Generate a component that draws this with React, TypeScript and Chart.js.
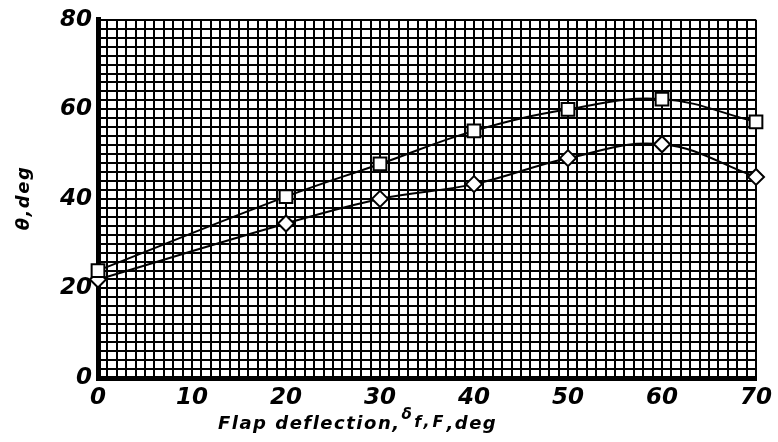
import React, { useEffect, useRef } from "react";
import { Chart, registerables } from "chart.js";

Chart.register(...registerables);

const flapDeflection = [0, 20, 30, 40, 50, 60, 70];
const squareSeries = [24, 40.5, 47.8, 55.2, 60, 62.3, 57.2];
const diamondSeries = [22, 34.5, 40, 43.3, 49.1, 52.2, 44.9];

const xMin = 0;
const xMax = 70;
const yMin = 0;
const yMax = 80;
const xLabelStep = 10;
const yLabelStep = 20;
const xTitleMain = "Flap deflection,";
const xTitleDelta = "δ";
const xTitleSub = "f,F";
const xTitleEnd = ",deg";
const yTitle = "θ,deg";

const FONT = "'DejaVu Sans', 'Liberation Sans', sans-serif";

const titlePlugin = {
  id: "customTitles",
  afterDraw(chart: any) {
    const ctx = chart.ctx;
    ctx.save();
    ctx.fillStyle = "#000";
    ctx.textBaseline = "alphabetic";
    ctx.textAlign = "left";
    // x title
    let x = 218;
    const base = 429;
    ctx.font = `italic bold 18px ${FONT}`;
    (ctx as any).letterSpacing = "1.5px";
    ctx.fillText(xTitleMain, x, base);
    x += ctx.measureText(xTitleMain).width + 1;
    ctx.font = `italic bold 15px ${FONT}`;
    ctx.fillText(xTitleDelta, x, base - 10);
    x += ctx.measureText(xTitleDelta).width + 1;
    ctx.font = `italic bold 16px ${FONT}`;
    (ctx as any).letterSpacing = "3px";
    ctx.fillText(xTitleSub, x, base - 2);
    x += ctx.measureText(xTitleSub).width;
    ctx.font = `italic bold 18px ${FONT}`;
    (ctx as any).letterSpacing = "1.5px";
    ctx.fillText(xTitleEnd, x, base);
    // y title
    ctx.translate(24, 198);
    ctx.rotate(-Math.PI / 2);
    ctx.textAlign = "center";
    ctx.textBaseline = "middle";
    (ctx as any).letterSpacing = "1.5px";
    ctx.font = `italic bold 18px ${FONT}`;
    ctx.fillText(yTitle, 0, 0);
    ctx.restore();
  },
};

export default function App() {
  const canvasRef = useRef<HTMLCanvasElement | null>(null);

  useEffect(() => {
    if (!canvasRef.current) return;
    const chart = new Chart(canvasRef.current, {
      type: "line",
      data: {
        datasets: [
          {
            label: "square",
            data: flapDeflection.map((d, i) => ({ x: d, y: squareSeries[i] })),
            borderColor: "#000",
            borderWidth: 2,
            tension: 0.4,
            pointStyle: "rect",
            pointRadius: 9,
            pointBorderWidth: 2,
            pointBorderColor: "#000",
            pointBackgroundColor: "#fff",
            fill: false,
          },
          {
            label: "diamond",
            data: flapDeflection.map((d, i) => ({ x: d, y: diamondSeries[i] })),
            borderColor: "#000",
            borderWidth: 2,
            tension: 0.4,
            pointStyle: "rectRot",
            pointRadius: 8,
            pointBorderWidth: 2,
            pointBorderColor: "#000",
            pointBackgroundColor: "#fff",
            fill: false,
          },
        ],
      },
      options: {
        animation: false,
        responsive: false,
        maintainAspectRatio: false,
        clip: false,
        layout: { padding: { left: 0, right: 20, top: 16, bottom: 0 } },
        plugins: {
          legend: { display: false },
          tooltip: { enabled: false },
          title: { display: false },
        },
        scales: {
          x: {
            type: "linear",
            min: xMin,
            max: xMax,
            afterFit: (scale: any) => {
              scale.height = 64;
            },
            grid: {
              color: "#000",
              lineWidth: 2,
              drawTicks: false,
            },
            border: { display: true, color: "#000", width: 5 },
            ticks: {
              stepSize: 1,
              autoSkip: false,
              maxRotation: 0,
              padding: 6,
              color: "#000",
              font: { family: FONT, size: 23, style: "italic", weight: "bold" },
              callback: (v: any) => (Number(v) % xLabelStep === 0 ? String(v) : ""),
            },
          },
          y: {
            type: "linear",
            min: yMin,
            max: yMax,
            afterFit: (scale: any) => {
              scale.width = 98;
            },
            grid: {
              color: "#000",
              lineWidth: 2,
              drawTicks: false,
            },
            border: { display: true, color: "#000", width: 5 },
            ticks: {
              stepSize: 2,
              autoSkip: false,
              padding: 6,
              color: "#000",
              font: { family: FONT, size: 23, style: "italic", weight: "bold" },
              callback: (v: any) => (Number(v) % yLabelStep === 0 ? String(v) : ""),
            },
          },
        },
      },
      plugins: [titlePlugin],
    });
    return () => chart.destroy();
  }, []);

  return (
    <div style={{ position: "fixed", left: 0, top: 0, width: 778, height: 442, background: "#fff" }}>
      <canvas ref={canvasRef} width={778} height={442} style={{ width: 778, height: 442 }} />
    </div>
  );
}
